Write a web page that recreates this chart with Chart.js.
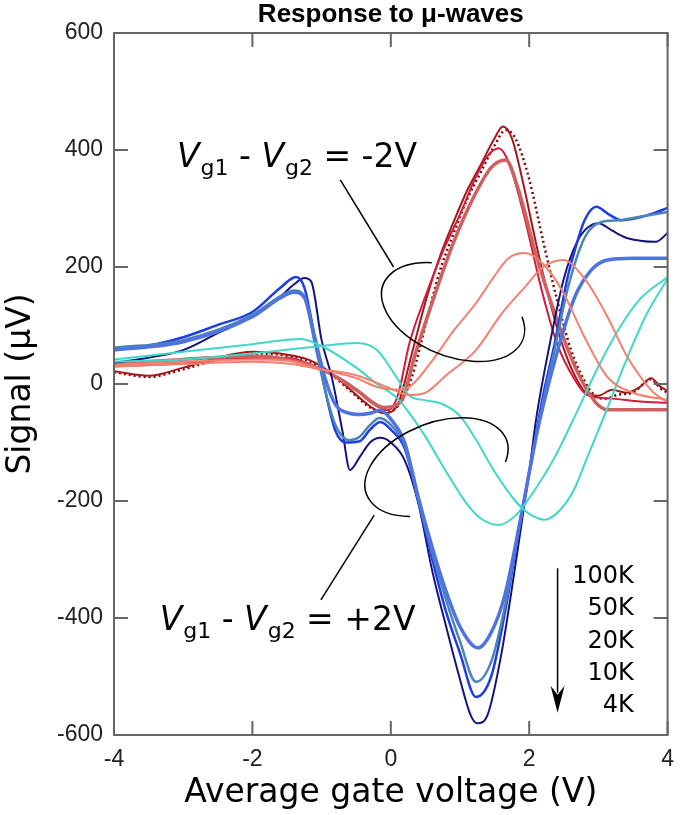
<!DOCTYPE html>
<html>
<head>
<meta charset="utf-8">
<script src="https://cdn.jsdelivr.net/npm/chart.js@4.4.1/dist/chart.umd.min.js"></script>
<style>
  html, body { margin: 0; padding: 0; background: #fff; }
  #wrap { width: 685px; height: 815px; }
</style>
</head>
<body>
<div id="wrap"><canvas id="chart"></canvas></div>
<script>
// axes
const xTicks = [-4, -2, 0, 2, 4];
const yTicks = [-600, -400, -200, 0, 200, 400, 600];

// Vg1 - Vg2 = +2V family (blues)
const navyX = [-4, -3.5, -3, -2.5, -2, -1.6, -1.4, -1.25, -1.15, -1.0, -0.85, -0.7, -0.59, -0.45, -0.3, -0.15, 0, 0.2, 0.4, 0.6, 0.8, 1.0, 1.15, 1.25, 1.4, 1.6, 1.8, 1.9, 2.0, 2.1, 2.3, 2.5, 2.7, 2.85, 3.0, 3.2, 3.4, 3.6, 3.83, 4.0];
const navyY = [36, 45, 58, 87, 116, 149, 170, 181, 175, 75, 10, -80, -147, -125, -100, -92, -100, -130, -205, -320, -415, -505, -565, -580, -565, -460, -310, -230, -150, -60, 70, 180, 245, 268, 275, 262, 250, 245, 243, 258];

const blueX = [-4, -3.5, -3, -2.5, -2, -1.6, -1.37, -1.25, -1.1, -0.95, -0.8, -0.65, -0.45, -0.3, -0.15, 0, 0.2, 0.4, 0.6, 0.8, 1.0, 1.23, 1.45, 1.65, 1.9, 2.04, 2.2, 2.37, 2.55, 2.66, 2.8, 2.97, 3.15, 3.33, 3.6, 3.8, 4.0];
const blueY = [60, 66, 80, 101, 123, 164, 183, 165, 80, -10, -80, -100, -98, -78, -65, -78, -110, -200, -300, -390, -460, -535, -500, -390, -215, -125, -20, 70, 180, 229, 280, 303, 290, 280, 285, 292, 301];

const steelX = [-4, -3, -2, -1.6, -1.4, -1.25, -1.1, -0.95, -0.8, -0.6, -0.45, -0.3, -0.16, 0, 0.2, 0.4, 0.6, 0.8, 1.0, 1.23, 1.45, 1.65, 1.9, 2.04, 2.2, 2.37, 2.55, 2.8, 3.04, 3.3, 3.6, 4.0];
const steelY = [62, 75, 118, 150, 160, 150, 70, -10, -70, -96, -90, -70, -58, -70, -105, -200, -290, -370, -440, -509, -475, -380, -215, -130, -30, 60, 160, 250, 277, 280, 286, 294];

const royalX = [-4, -3, -2, -1.6, -1.4, -1.25, -1.1, -0.95, -0.8, -0.6, -0.45, -0.3, -0.15, 0, 0.2, 0.4, 0.6, 0.8, 1.0, 1.26, 1.45, 1.65, 1.9, 2.1, 2.37, 2.66, 2.9, 3.13, 3.5, 4.0];
const royalY = [58, 72, 115, 147, 157, 148, 80, 10, -35, -50, -52, -50, -45, -60, -100, -195, -280, -355, -415, -451, -425, -360, -215, -90, 40, 149, 195, 212, 215, 215];

const cyan1X = [-4, -3, -2, -1.3, -1.0, -0.5, -0.2, 0.1, 0.3, 0.5, 0.8, 1.1, 1.3, 1.56, 1.8, 2.0, 2.37, 2.7, 3.0, 3.3, 3.6, 4.0];
const cyan1Y = [42, 55, 68, 77, 65, 28, 0, -25, -55, -90, -150, -205, -230, -241, -225, -195, -125, -45, 30, 95, 145, 183];

const cyan2X = [-4, -3, -2, -1, -0.49, -0.2, 0.08, 0.27, 0.5, 0.76, 1.0, 1.23, 1.5, 1.8, 2.0, 2.23, 2.45, 2.65, 2.84, 3.1, 3.4, 3.7, 4.0];
const cyan2Y = [38, 42, 52, 65, 70, 58, 12, -20, -28, -35, -55, -95, -150, -200, -222, -232, -215, -180, -125, -50, 40, 120, 180];

// Vg1 - Vg2 = -2V family (reds)
const dred4X = [-4, -3.5, -3, -2.5, -2, -1.6, -1.2, -0.9, -0.6, -0.3, -0.1, 0.1, 0.3, 0.5, 0.7, 0.9, 1.1, 1.3, 1.5, 1.66, 1.8, 2.0, 2.2, 2.4, 2.6, 2.8, 2.95, 3.1, 3.3, 3.5, 3.65, 3.76, 3.9, 4.0];
const dred4Y = [20, 12, 25, 42, 52, 50, 40, 20, -10, -40, -48, -38, 10, 100, 190, 255, 315, 362, 408, 434, 420, 350, 245, 145, 60, 5, -20, -25, -18, -15, 0, 8, -8, -15];

const dred10X = [-4, -3.5, -3, -2.5, -2, -1.6, -1.2, -0.9, -0.6, -0.3, -0.1, 0.1, 0.3, 0.5, 0.7, 0.9, 1.1, 1.3, 1.5, 1.62, 1.75, 1.9, 2.1, 2.3, 2.5, 2.7, 2.85, 3.0, 3.2, 3.4, 3.6, 3.76, 3.9, 4.0];
const dred10Y = [22, 14, 28, 45, 55, 52, 42, 22, -8, -38, -50, -35, 50, 140, 215, 275, 330, 375, 420, 440, 420, 350, 240, 140, 60, 5, -18, -20, -10, -15, -5, 10, -5, -12];

const crimX = [-4, -3, -2, -1.5, -1.0, -0.6, -0.3, -0.05, 0.1, 0.27, 0.5, 0.76, 1.0, 1.23, 1.4, 1.56, 1.7, 1.9, 2.19, 2.4, 2.66, 2.84, 3.2, 3.6, 4.0];
const crimY = [30, 35, 45, 45, 25, 0, -30, -45, -20, 70, 150, 229, 290, 354, 390, 403, 380, 300, 156, 70, 7, -19, -25, -30, -32];

const indX = [-4, -3, -2, -1.0, -0.5, -0.1, 0.15, 0.35, 0.6, 0.9, 1.2, 1.45, 1.66, 1.85, 2.1, 2.4, 2.7, 2.95, 3.13, 3.5, 4.0];
const indY = [35, 42, 48, 25, -10, -40, -30, 50, 140, 240, 320, 370, 383, 330, 220, 110, 20, -30, -44, -44, -44];

const salm1X = [-4, -3, -2, -1.5, -1, -0.5, -0.2, 0.1, 0.27, 0.6, 0.9, 1.23, 1.5, 1.7, 1.94, 2.2, 2.47, 2.8, 3.13, 3.5, 4.0];
const salm1Y = [33, 38, 42, 40, 25, 10, -5, -10, -5, 40, 90, 138, 185, 215, 224, 205, 161, 80, 12, -15, -27];

const salm2X = [-4, -3, -2, -1.5, -1, -0.5, 0, 0.27, 0.5, 0.8, 1.23, 1.6, 1.94, 2.2, 2.49, 2.8, 3.13, 3.4, 3.61, 3.8, 4.0];
const salm2Y = [30, 34, 38, 35, 25, 15, -8, -19, -15, 15, 58, 120, 166, 200, 212, 180, 115, 50, 12, -15, -31];

const tempLabels = ['100K', '50K', '20K', '10K', '4K'];

const toPoints = (xs, ys) => xs.map((x, i) => ({ x: x, y: ys[i] }));

function line(xs, ys, color, width, dash) {
  return {
    data: toPoints(xs, ys),
    borderColor: color,
    borderWidth: width,
    borderDash: dash || [],
    pointRadius: 0,
    fill: false,
    cubicInterpolationMode: 'monotone'
  };
}

// annotation positions (data coordinates)
const notes = {
  minus: { x: -3.09, y: 371, lead: [[-0.73, 349], [0.04, 200]], ell: { x: 0.9, y: 123, rx: 75, ry: 44, rot: 0.38, a0: -0.5, a1: 4.18 } },
  plus: { x: -3.34, y: -420, lead: [[-1.01, -369], [-0.24, -224]], ell: { x: 0.66, y: -142, rx: 75, ry: 44, rot: -0.38, a0: 2.18, a1: 6.78 } },
  arrow: { x: 2.41, y0: -315, y1: -562 },
  temps: { x: 3.51, y0: -330, step: -55 }
};

function drawVLabel(ctx, x, y, sign) {
  const parts = [
    ['italic 33px "DejaVu Sans"', 'V', 0],
    ['22px "DejaVu Sans"', 'g1', 8],
    ['33px "DejaVu Sans"', ' - ', 0],
    ['italic 33px "DejaVu Sans"', 'V', 0],
    ['22px "DejaVu Sans"', 'g2', 8],
    ['33px "DejaVu Sans"', ' = ' + sign + '2V', 0]
  ];
  ctx.textAlign = 'left';
  ctx.textBaseline = 'alphabetic';
  let cx = x;
  parts.forEach(p => {
    ctx.font = p[0];
    ctx.fillText(p[1], cx, y + p[2]);
    cx += ctx.measureText(p[1]).width + (p[0].indexOf('italic') >= 0 ? 1 : 0);
  });
}

const framePlugin = {
  id: 'frame',
  afterDatasetsDraw(chart) {
    const { ctx, chartArea: a, scales: { x, y } } = chart;
    ctx.save();
    ctx.strokeStyle = '#666';
    ctx.lineWidth = 2;
    ctx.strokeRect(a.left, a.top, a.right - a.left, a.bottom - a.top);
    const tl = 14;
    ctx.beginPath();
    xTicks.forEach(v => {
      const px = x.getPixelForValue(v);
      ctx.moveTo(px, a.bottom); ctx.lineTo(px, a.bottom - tl);
      ctx.moveTo(px, a.top); ctx.lineTo(px, a.top + tl);
    });
    yTicks.forEach(v => {
      const py = y.getPixelForValue(v);
      ctx.moveTo(a.left, py); ctx.lineTo(a.left + tl, py);
      ctx.moveTo(a.right, py); ctx.lineTo(a.right - tl, py);
    });
    ctx.stroke();

    // title
    ctx.fillStyle = '#000';
    ctx.font = 'bold 26px "Liberation Sans", Arial';
    ctx.textAlign = 'center';
    ctx.textBaseline = 'middle';
    ctx.fillText('Response to μ-waves', (a.left + a.right) / 2, 15);
    ctx.restore();
  }
};

const notePlugin = {
  id: 'notes',
  afterDatasetsDraw(chart) {
    const { ctx, scales: { x, y } } = chart;
    ctx.save();
    ctx.strokeStyle = '#000';
    ctx.fillStyle = '#000';
    ctx.lineWidth = 1.5;
    ['minus', 'plus'].forEach(k => {
      const n = notes[k];
      drawVLabel(ctx, x.getPixelForValue(n.x), y.getPixelForValue(n.y), k === 'minus' ? '-' : '+');
      ctx.beginPath();
      ctx.moveTo(x.getPixelForValue(n.lead[0][0]), y.getPixelForValue(n.lead[0][1]));
      ctx.lineTo(x.getPixelForValue(n.lead[1][0]), y.getPixelForValue(n.lead[1][1]));
      ctx.stroke();
      const e = n.ell;
      ctx.beginPath();
      ctx.ellipse(x.getPixelForValue(e.x), y.getPixelForValue(e.y), e.rx, e.ry, e.rot, e.a0, e.a1);
      ctx.stroke();
    });

    // temperature arrow
    const ax = x.getPixelForValue(notes.arrow.x);
    const ay0 = y.getPixelForValue(notes.arrow.y0);
    const ay1 = y.getPixelForValue(notes.arrow.y1);
    ctx.beginPath();
    ctx.moveTo(ax, ay0);
    ctx.lineTo(ax, ay1 - 20);
    ctx.stroke();
    ctx.beginPath();
    ctx.moveTo(ax, ay1);
    ctx.lineTo(ax - 7, ay1 - 27);
    ctx.lineTo(ax, ay1 - 18);
    ctx.lineTo(ax + 7, ay1 - 27);
    ctx.closePath();
    ctx.fill();

    ctx.font = '24px "DejaVu Sans"';
    ctx.textAlign = 'right';
    ctx.textBaseline = 'middle';
    tempLabels.forEach((t, i) => {
      ctx.fillText(t, x.getPixelForValue(notes.temps.x), y.getPixelForValue(notes.temps.y0 + i * notes.temps.step));
    });
    ctx.restore();
  }
};

new Chart(document.getElementById('chart'), {
  type: 'line',
  data: {
    datasets: [
      line(salm2X, salm2Y, '#f4806f', 2),
      line(salm1X, salm1Y, '#f4806f', 2),
      line(cyan2X, cyan2Y, '#3fd8c6', 2),
      line(cyan1X, cyan1Y, '#3fd8c6', 2),
      line(royalX, royalY, '#4f74e0', 3.5),
      line(steelX, steelY, '#4a86b5', 2.5),
      line(blueX, blueY, '#1f3de6', 2.5),
      line(navyX, navyY, '#14147e', 2),
      line(indX, indY, '#d05f5f', 3.5),
      line(crimX, crimY, '#d61a3c', 2),
      line(dred10X, dred10Y, '#a31a1a', 2),
      line(dred4X, dred4Y, '#7a0808', 2.5, [2, 3])
    ]
  },
  options: {
    responsive: true,
    maintainAspectRatio: false,
    animation: false,
    layout: { padding: { top: 33, right: 11, left: 0, bottom: 0 } },
    plugins: { legend: { display: false }, tooltip: { enabled: false } },
    scales: {
      x: {
        type: 'linear',
        min: -4,
        max: 4,
        afterBuildTicks: s => { s.ticks = xTicks.map(v => ({ value: v })); },
        afterFit: s => { s.height = 80; },
        grid: { display: false, drawTicks: false },
        border: { display: false },
        ticks: { color: '#222', padding: 11, font: { family: '"Liberation Sans", Arial', size: 23 } },
        title: { display: true, text: 'Average gate voltage (V)', color: '#000', padding: { top: 0, bottom: 2 }, font: { family: '"DejaVu Sans"', size: 33 } }
      },
      y: {
        min: -600,
        max: 600,
        afterBuildTicks: s => { s.ticks = yTicks.map(v => ({ value: v })); },
        afterFit: s => { s.width = 114; },
        grid: { display: false, drawTicks: false },
        border: { display: false },
        ticks: { color: '#222', padding: 11, font: { family: '"Liberation Sans", Arial', size: 23 } },
        title: { display: true, text: 'Signal (μV)', color: '#000', padding: { top: 2, bottom: 0 }, font: { family: '"DejaVu Sans"', size: 33 } }
      }
    }
  },
  plugins: [framePlugin, notePlugin]
});
</script>
</body>
</html>
